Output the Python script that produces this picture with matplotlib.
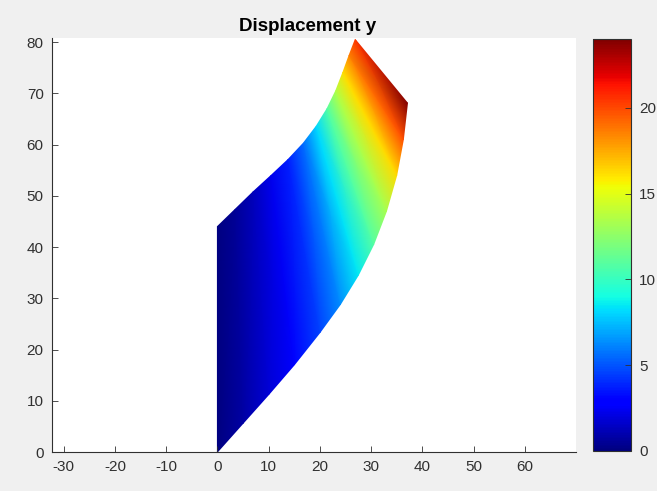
import numpy as np
from matplotlib import pyplot as plt

# deformed boundary nodes (lower edge and upper edge of the membrane)
x_bottom = [0.0, 5.0, 10.0, 15.0, 20.0, 24.0, 27.5, 30.5, 33.0, 35.0, 36.3, 37.1]
y_bottom = [0.0, 5.6, 11.2, 17.0, 23.3, 28.8, 34.5, 40.5, 47.0, 54.0, 61.0, 68.1]
u_bottom = [0.0, 0.8, 1.8, 3.0, 4.5, 6.3, 8.5, 10.8, 13.3, 16.3, 19.8, 24.0]

x_top = [0.0, 3.5, 7.0, 10.5, 13.8, 16.8, 19.3, 21.4, 23.1, 24.5, 25.7, 26.9]
y_top = [44.0, 47.4, 50.8, 54.0, 57.1, 60.3, 63.6, 67.0, 70.5, 74.1, 77.4, 80.5]
u_top = [0.0, 0.5, 1.3, 2.3, 3.7, 5.6, 8.1, 10.8, 13.5, 16.2, 18.5, 20.5]

x_ticks = [-30, -20, -10, 0, 10, 20, 30, 40, 50, 60]
y_ticks = [0, 10, 20, 30, 40, 50, 60, 70, 80]
cbar_ticks = [0, 5, 10, 15, 20]
u_max = 24.0

bg = '#f0f0f0'
ink = '#303030'
plt.rcParams['font.family'] = ['Liberation Sans', 'DejaVu Sans']
plt.rcParams['axes.unicode_minus'] = False

fig = plt.figure(figsize=(6.57, 4.91), dpi=100, facecolor=bg)
ax = fig.add_axes([0.0791, 0.0794, 0.7976, 0.8432])
ax.set_facecolor('white')

X = np.array([x_bottom, x_top])
Y = np.array([y_bottom, y_top])
U = np.array([u_bottom, u_top])
mesh = ax.pcolormesh(X, Y, U, shading='gouraud', cmap='jet', vmin=0, vmax=u_max)

ax.set_xlim(-32.3, 70.0)
ax.set_ylim(0, 80.8)
ax.set_xticks(x_ticks)
ax.set_yticks(y_ticks)
for side in ['top', 'right']:
    ax.spines[side].set_visible(False)
for side in ['left', 'bottom']:
    ax.spines[side].set_color(ink)
    ax.spines[side].set_linewidth(0.8)
ax.tick_params(direction='in', length=4, width=0.6, colors=ink, labelsize=11, pad=6)
ax.set_title('Displacement y', fontsize=13.5, fontweight='bold', color='black', pad=5, x=0.487)

cax = fig.add_axes([0.9026, 0.0815, 0.0578, 0.839])
cb = fig.colorbar(mesh, cax=cax, ticks=cbar_ticks)
cb.outline.set_edgecolor(ink)
cb.outline.set_linewidth(0.8)
cax.tick_params(direction='in', length=4, width=0.6, colors=ink, labelsize=11, pad=6)

fig.savefig('out.png', dpi=100, facecolor=bg)
